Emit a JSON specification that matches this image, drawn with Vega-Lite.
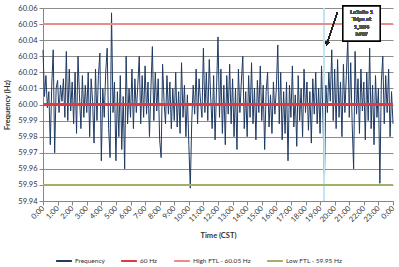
{
  "$schema": "https://vega.github.io/schema/vega-lite/v6.json",
  "width": 350,
  "height": 193,
  "autosize": {"type": "none"},
  "padding": {"left": 43, "top": 8, "right": 6, "bottom": 66},
  "background": "white",
  "config": {
    "view": {"stroke": null},
    "font": "Lato",
    "axis": {"labelFont": "Lato", "titleFont": "Lato", "labelColor": "#333333", "titleColor": "#333333", "domainColor": "#868686", "tickColor": "#868686", "labelFontSize": 7.5, "titleFontSize": 7.5, "labelOverlap": false, "labelFlush": false},
    "axisX": {"tickCount": 24, "grid": false, "labelAngle": -45, "labelAlign": "right", "labelBaseline": "middle", "tickSize": 4, "labelPadding": 2, "titleFontWeight": "bold", "titlePadding": 8, "labelExpr": "(datum.value % 24) + ':00'"},
    "axisY": {"tickCount": 12, "grid": true, "gridColor": "#8C8C8C", "gridWidth": 1, "tickSize": 4, "format": ".2f", "titleFontWeight": "bold", "titlePadding": 6},
    "legend": {"labelFont": "Lato", "labelFontSize": 6.5, "labelColor": "#333333"}
  },
  "data": {"values": [
    {"t":0.0,"f":60.034},{"t":0.1,"f":60.005},{"t":0.2,"f":60.018},{"t":0.3,"f":59.998},{"t":0.4,"f":60.008},{"t":0.5,"f":59.975},{"t":0.6,"f":60.012},{"t":0.7,"f":60.034},{"t":0.8,"f":59.970},{"t":0.9,"f":60.010},
    {"t":1.0,"f":60.015},{"t":1.1,"f":59.995},{"t":1.2,"f":60.012},{"t":1.3,"f":60.002},{"t":1.4,"f":60.016},{"t":1.5,"f":59.992},{"t":1.6,"f":60.033},{"t":1.7,"f":59.990},{"t":1.8,"f":60.022},{"t":1.9,"f":59.996},
    {"t":2.0,"f":60.014},{"t":2.1,"f":59.988},{"t":2.2,"f":60.020},{"t":2.3,"f":59.982},{"t":2.4,"f":60.030},{"t":2.5,"f":60.006},{"t":2.6,"f":59.985},{"t":2.7,"f":60.018},{"t":2.8,"f":59.992},{"t":2.9,"f":60.012},
    {"t":3.0,"f":59.995},{"t":3.1,"f":60.020},{"t":3.2,"f":59.980},{"t":3.3,"f":60.016},{"t":3.4,"f":60.002},{"t":3.5,"f":59.976},{"t":3.6,"f":60.022},{"t":3.7,"f":59.990},{"t":3.8,"f":60.018},{"t":3.9,"f":60.032},
    {"t":4.0,"f":59.965},{"t":4.1,"f":60.010},{"t":4.2,"f":59.992},{"t":4.3,"f":60.020},{"t":4.4,"f":60.035},{"t":4.5,"f":59.985},{"t":4.6,"f":59.967},{"t":4.7,"f":60.057},{"t":4.8,"f":59.995},{"t":4.9,"f":60.014},
    {"t":5.0,"f":59.965},{"t":5.1,"f":60.008},{"t":5.2,"f":59.980},{"t":5.3,"f":60.018},{"t":5.4,"f":59.972},{"t":5.5,"f":60.005},{"t":5.6,"f":59.960},{"t":5.7,"f":60.030},{"t":5.8,"f":59.988},{"t":5.9,"f":60.010},
    {"t":6.0,"f":59.992},{"t":6.1,"f":60.022},{"t":6.2,"f":59.985},{"t":6.3,"f":60.016},{"t":6.4,"f":59.995},{"t":6.5,"f":60.012},{"t":6.6,"f":60.030},{"t":6.7,"f":59.988},{"t":6.8,"f":60.018},{"t":6.9,"f":59.992},
    {"t":7.0,"f":60.024},{"t":7.1,"f":59.994},{"t":7.2,"f":60.014},{"t":7.3,"f":59.980},{"t":7.4,"f":60.010},{"t":7.5,"f":60.036},{"t":7.6,"f":59.990},{"t":7.7,"f":60.020},{"t":7.8,"f":59.996},{"t":7.9,"f":60.016},
    {"t":8.0,"f":59.978},{"t":8.1,"f":59.967},{"t":8.2,"f":60.025},{"t":8.3,"f":60.002},{"t":8.4,"f":59.988},{"t":8.5,"f":60.018},{"t":8.6,"f":59.994},{"t":8.7,"f":60.014},{"t":8.8,"f":59.985},{"t":8.9,"f":60.010},
    {"t":9.0,"f":59.990},{"t":9.1,"f":60.020},{"t":9.2,"f":59.986},{"t":9.3,"f":60.008},{"t":9.4,"f":59.982},{"t":9.5,"f":60.026},{"t":9.6,"f":59.992},{"t":9.7,"f":60.012},{"t":9.8,"f":59.980},{"t":9.9,"f":60.006},
    {"t":10.0,"f":59.975},{"t":10.1,"f":59.948},{"t":10.2,"f":59.990},{"t":10.3,"f":60.012},{"t":10.4,"f":59.994},{"t":10.5,"f":60.022},{"t":10.6,"f":59.988},{"t":10.7,"f":60.016},{"t":10.8,"f":60.002},{"t":10.9,"f":59.992},
    {"t":11.0,"f":60.035},{"t":11.1,"f":59.995},{"t":11.2,"f":60.020},{"t":11.3,"f":59.990},{"t":11.4,"f":60.028},{"t":11.5,"f":60.004},{"t":11.6,"f":59.985},{"t":11.7,"f":60.018},{"t":11.8,"f":59.978},{"t":11.9,"f":60.010},
    {"t":12.0,"f":60.042},{"t":12.1,"f":59.992},{"t":12.2,"f":60.022},{"t":12.3,"f":59.982},{"t":12.4,"f":60.012},{"t":12.5,"f":59.975},{"t":12.6,"f":60.018},{"t":12.7,"f":59.994},{"t":12.8,"f":60.025},{"t":12.9,"f":59.988},
    {"t":13.0,"f":60.016},{"t":13.1,"f":59.980},{"t":13.2,"f":60.010},{"t":13.3,"f":59.972},{"t":13.4,"f":60.022},{"t":13.5,"f":59.995},{"t":13.6,"f":60.014},{"t":13.7,"f":60.030},{"t":13.8,"f":59.985},{"t":13.9,"f":60.008},
    {"t":14.0,"f":59.980},{"t":14.1,"f":60.018},{"t":14.2,"f":59.992},{"t":14.3,"f":60.026},{"t":14.4,"f":59.988},{"t":14.5,"f":60.010},{"t":14.6,"f":59.978},{"t":14.7,"f":60.015},{"t":14.8,"f":59.995},{"t":14.9,"f":60.024},
    {"t":15.0,"f":59.990},{"t":15.1,"f":60.012},{"t":15.2,"f":59.972},{"t":15.3,"f":60.008},{"t":15.4,"f":60.020},{"t":15.5,"f":59.986},{"t":15.6,"f":60.006},{"t":15.7,"f":59.982},{"t":15.8,"f":60.014},{"t":15.9,"f":59.994},
    {"t":16.0,"f":60.010},{"t":16.1,"f":60.037},{"t":16.2,"f":59.988},{"t":16.3,"f":60.020},{"t":16.4,"f":59.978},{"t":16.5,"f":60.008},{"t":16.6,"f":59.982},{"t":16.7,"f":60.014},{"t":16.8,"f":59.965},{"t":16.9,"f":60.012},
    {"t":17.0,"f":59.992},{"t":17.1,"f":60.024},{"t":17.2,"f":59.986},{"t":17.3,"f":60.006},{"t":17.4,"f":59.974},{"t":17.5,"f":60.018},{"t":17.6,"f":59.990},{"t":17.7,"f":60.010},{"t":17.8,"f":59.980},{"t":17.9,"f":60.022},
    {"t":18.0,"f":59.995},{"t":18.1,"f":60.014},{"t":18.2,"f":59.984},{"t":18.3,"f":60.008},{"t":18.4,"f":59.976},{"t":18.5,"f":60.016},{"t":18.6,"f":59.994},{"t":18.7,"f":60.020},{"t":18.8,"f":59.988},{"t":18.9,"f":60.010},
    {"t":19.0,"f":59.982},{"t":19.1,"f":60.024},{"t":19.2,"f":59.990},{"t":19.3,"f":59.952},{"t":19.4,"f":60.012},{"t":19.5,"f":59.995},{"t":19.6,"f":60.020},{"t":19.7,"f":60.002},{"t":19.8,"f":60.034},{"t":19.9,"f":59.990},
    {"t":20.0,"f":60.022},{"t":20.1,"f":59.985},{"t":20.2,"f":60.028},{"t":20.3,"f":59.992},{"t":20.4,"f":60.014},{"t":20.5,"f":59.980},{"t":20.6,"f":60.025},{"t":20.7,"f":59.995},{"t":20.8,"f":60.018},{"t":20.9,"f":60.041},
    {"t":21.0,"f":59.992},{"t":21.1,"f":60.026},{"t":21.2,"f":59.988},{"t":21.3,"f":59.960},{"t":21.4,"f":60.033},{"t":21.5,"f":59.994},{"t":21.6,"f":60.016},{"t":21.7,"f":59.982},{"t":21.8,"f":60.022},{"t":21.9,"f":59.996},
    {"t":22.0,"f":60.014},{"t":22.1,"f":59.978},{"t":22.2,"f":60.020},{"t":22.3,"f":59.990},{"t":22.4,"f":60.035},{"t":22.5,"f":59.985},{"t":22.6,"f":60.012},{"t":22.7,"f":59.975},{"t":22.8,"f":60.018},{"t":22.9,"f":59.992},
    {"t":23.0,"f":60.010},{"t":23.1,"f":59.951},{"t":23.2,"f":60.014},{"t":23.3,"f":60.030},{"t":23.4,"f":59.988},{"t":23.5,"f":60.018},{"t":23.6,"f":59.995},{"t":23.7,"f":60.022},{"t":23.8,"f":59.980},{"t":23.9,"f":60.008},
    {"t":24.0,"f":59.988}
  ]},
  "layer": [
    {
      "mark": {"type": "line", "strokeWidth": 1, "interpolate": "linear"},
      "encoding": {
        "x": {"field": "t", "type": "quantitative", "scale": {"domain": [0, 24], "nice": false, "zero": false}, "title": "Time (CST)"},
        "y": {"field": "f", "type": "quantitative", "scale": {"domain": [59.94, 60.06], "nice": false, "zero": false}, "title": "Frequency (Hz)"},
        "color": {"datum": "Frequency", "type": "nominal",
          "scale": {"domain": ["Frequency", "60 Hz", "High FTL - 60.05 Hz", "Low FTL - 59.95 Hz"], "range": ["#1F3A63", "#E2383F", "#EE8A8A", "#A4B06A"]},
          "legend": {"title": null, "orient": "none", "legendX": 12, "legendY": 244, "direction": "horizontal", "symbolType": "stroke", "symbolStrokeWidth": 2, "symbolSize": 250, "columnPadding": 12, "labelOffset": 2}}
      }
    },
    {
      "mark": {"type": "rule", "color": "#BFE3F0", "strokeWidth": 1, "opacity": 0.8},
      "encoding": {"x": {"datum": 19.3, "type": "quantitative"}}
    },
    {
      "mark": {"type": "rule", "strokeWidth": 2},
      "encoding": {"y": {"datum": 60.0, "type": "quantitative"}, "color": {"datum": "60 Hz", "type": "nominal"}}
    },
    {
      "mark": {"type": "rule", "strokeWidth": 1},
      "encoding": {"y": {"datum": 60.05, "type": "quantitative"}, "color": {"datum": "High FTL - 60.05 Hz", "type": "nominal"}}
    },
    {
      "mark": {"type": "rule", "strokeWidth": 2},
      "encoding": {"y": {"datum": 59.95, "type": "quantitative"}, "color": {"datum": "Low FTL - 59.95 Hz", "type": "nominal"}}
    },
    {
      "mark": {"type": "rect", "fill": "white", "stroke": "black", "strokeWidth": 1.2},
      "encoding": {"x": {"datum": 20.57, "type": "quantitative"}, "x2": {"datum": 23.11}, "y": {"datum": 60.0612, "type": "quantitative"}, "y2": {"datum": 60.0395}}
    },
    {
      "mark": {"type": "text", "text": ["LaSalle 1", "Trips at", "1,204", "MW"], "fontSize": 6, "fontWeight": "normal", "lineHeight": 7.5, "align": "center", "baseline": "top", "color": "#555555"},
      "encoding": {"x": {"datum": 21.84, "type": "quantitative"}, "y": {"datum": 60.0595, "type": "quantitative"}}
    },
    {
      "mark": {"type": "rule", "color": "#222222", "strokeWidth": 1},
      "encoding": {"x": {"datum": 20.16, "type": "quantitative"}, "x2": {"datum": 19.5}, "y": {"datum": 60.0569, "type": "quantitative"}, "y2": {"datum": 60.0385}}
    },
    {
      "mark": {"type": "point", "shape": "triangle-up", "filled": true, "color": "#222222", "size": 14, "angle": 198, "opacity": 1},
      "encoding": {"x": {"datum": 19.47, "type": "quantitative"}, "y": {"datum": 60.0378, "type": "quantitative"}}
    }
  ]
}
